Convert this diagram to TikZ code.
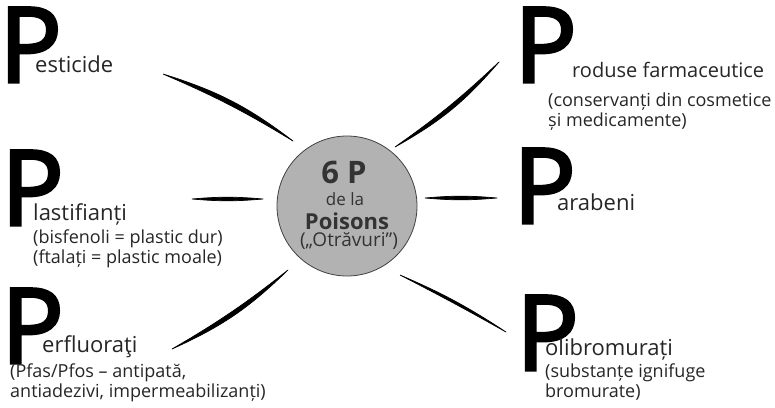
\documentclass[tikz,border=0pt]{standalone}
\usepackage{fontspec}
\setmainfont{Open Sans}
\newfontfamily\bigPfont[FakeBold=3]{Open Sans}
\usetikzlibrary{positioning}

\tikzset{
  bigP/.style={inner sep=0pt, anchor=base west, font=\bigPfont\fontsize{104}{104}\selectfont},
  word/.style={inner sep=0pt, anchor=base west, font=\fontsize{22}{24}\selectfont, text=black!85},
  note/.style={inner sep=0pt, anchor=north west, align=left, font=\fontsize{18}{20}\selectfont, text=black!85},
  hub/.style={circle, draw=black!75, fill=gray!60, minimum size=140pt, inner sep=0pt, line width=0.8pt},
  brush/.style={fill=black, draw=black, line width=0.7pt, line join=round}
}

\begin{document}
\begin{tikzpicture}[x=1pt, y=-1pt]
    \useasboundingbox (0,0) rectangle (775,407);

    % centre
    \node [hub] (hub) at (347,206) {};
    \node [font=\fontsize{31}{31}\selectfont\bfseries, text=black!80] (six) at (344,172) {6 P};
    \node [font=\fontsize{17}{17}\selectfont, text=black!80] (dela) at (345,199) {de la};
    \node [font=\fontsize{22}{22}\selectfont\bfseries, text=black!80] (poisons) at (347,221) {Poisons};
    \node [font=\fontsize{19}{19}\selectfont, text=black!80] (otr) at (349,241) {(„Otrăvuri”)};

    % left side
    \node [bigP] (pPest) at (-1,82) {P};
    \node [word] (tPest) at (35,72) {esticide};
    \node [bigP] (pPlast) at (1,225) {P};
    \node [word] (tPlast) at (33,220) {lastifianți};
    \node [note] (nPlast) at (33,230) {(bisfenoli = plastic dur)\\(ftalați = plastic moale)};
    \node [bigP] (pPerf) at (1,363) {P};
    \node [word] (tPerf) at (42,352) {erfluoraţi};
    \node [note] (nPerf) at (10,364) {(Pfas/Pfos – antipată,\\antiadezivi, impermeabilizanți)};

    % right side
    \node [bigP] (pProd) at (514,82) {P};
    \node [word, font=\fontsize{20}{24}\selectfont] (tProd) at (572,77) {roduse farmaceutice};
    \node [note] (nProd) at (548,93) {(conservanți din cosmetice\\și medicamente)};
    \node [bigP] (pPara) at (513,223) {P};
    \node [word] (tPara) at (557,210) {arabeni};
    \node [bigP] (pPoli) at (516,370) {P};
    \node [word] (tPoli) at (545,355) {olibromurați};
    \node [note] (nPoli) at (545,364) {(substanțe ignifuge\\bromurate)};

    % brush strokes
    \coordinate (tl-a) at (163,74);  \coordinate (tl-b) at (293,141);
    \coordinate (tr-a) at (395,147); \coordinate (tr-b) at (499,62);
    \coordinate (l-a) at (192,199);  \coordinate (l-b) at (263,199);
    \coordinate (r-a) at (425,198);  \coordinate (r-b) at (497,198);
    \coordinate (bl-a) at (172,349); \coordinate (bl-b) at (288,270);
    \coordinate (br-a) at (400,275); \coordinate (br-b) at (506,332);

    \fill [brush] (tl-a) to[bend left=10] (tl-b) to[bend right=4] (tl-a);
    \fill [brush] (tr-a) to[bend right=10] (tr-b) to[bend left=4] (tr-a);
    \fill [brush] (l-a) to[bend left=5] (l-b) to[bend left=5] (l-a);
    \fill [brush] (r-a) to[bend left=5] (r-b) to[bend left=5] (r-a);
    \fill [brush] (bl-a) to[bend right=10] (bl-b) to[bend left=4] (bl-a);
    \fill [brush] (br-a) to[bend left=5] (br-b) to[bend right=1] (br-a);
\end{tikzpicture}
\end{document}
